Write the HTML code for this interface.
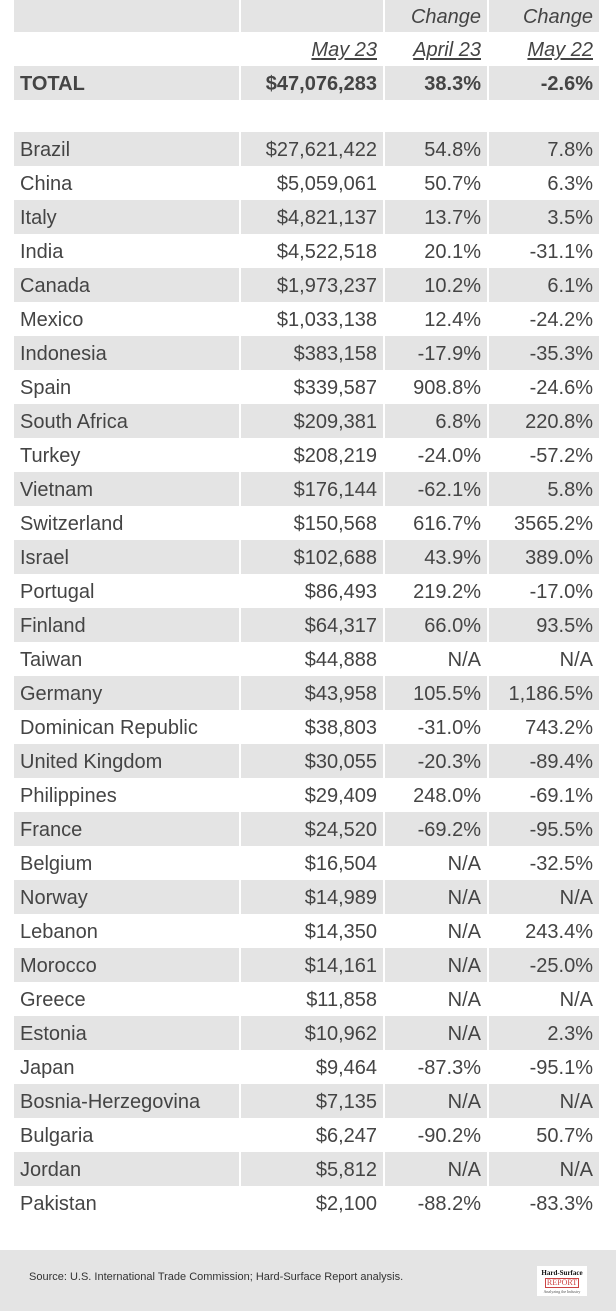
<!DOCTYPE html>
<html><head><meta charset="utf-8"><style>
*{margin:0;padding:0;box-sizing:border-box}
body{width:616px;height:1311px;background:#fff;position:relative;overflow:hidden;font-family:"Liberation Sans",Arial,sans-serif;color:#444}
.r{position:absolute;left:14px;width:585px;height:34px;font-size:20px;line-height:36px}
.r div{position:absolute;top:0;height:34px}
.c1{left:0;width:225px;padding-left:6px}
.c2{left:227px;width:142px;text-align:right;padding-right:6px}
.c3{left:371px;width:102px;text-align:right;padding-right:6px}
.c4{left:475px;width:110px;text-align:right;padding-right:6px}
.g div{background:#e4e4e4}
.b{font-weight:bold}
.i{font-style:italic}
u{text-decoration:underline;text-underline-offset:2px}
.foot{position:absolute;left:0;top:1250px;width:616px;height:61px;background:#e4e4e4}
.src{position:absolute;left:29px;top:21px;font-size:11px;color:#333}
.logo{position:absolute;left:537px;top:16px;width:50px;height:30px;background:#fff;text-align:center;font-family:"Liberation Serif",serif}
</style></head><body>
<div class="r g i" style="top:0;height:32px;line-height:34px"><div class="c1" style="height:32px"></div><div class="c2" style="height:32px"></div><div class="c3" style="height:32px">Change</div><div class="c4" style="height:32px">Change</div></div>
<div class="r i" style="top:32px"><div class="c1"></div><div class="c2"><u>May 23</u></div><div class="c3"><u>April 23</u></div><div class="c4"><u>May 22</u></div></div>
<div class="r g b" style="top:66px"><div class="c1">TOTAL</div><div class="c2">$47,076,283</div><div class="c3">38.3%</div><div class="c4">-2.6%</div></div>
<div class="r g" style="top:132px"><div class="c1">Brazil</div><div class="c2">$27,621,422</div><div class="c3">54.8%</div><div class="c4">7.8%</div></div>
<div class="r" style="top:166px"><div class="c1">China</div><div class="c2">$5,059,061</div><div class="c3">50.7%</div><div class="c4">6.3%</div></div>
<div class="r g" style="top:200px"><div class="c1">Italy</div><div class="c2">$4,821,137</div><div class="c3">13.7%</div><div class="c4">3.5%</div></div>
<div class="r" style="top:234px"><div class="c1">India</div><div class="c2">$4,522,518</div><div class="c3">20.1%</div><div class="c4">-31.1%</div></div>
<div class="r g" style="top:268px"><div class="c1">Canada</div><div class="c2">$1,973,237</div><div class="c3">10.2%</div><div class="c4">6.1%</div></div>
<div class="r" style="top:302px"><div class="c1">Mexico</div><div class="c2">$1,033,138</div><div class="c3">12.4%</div><div class="c4">-24.2%</div></div>
<div class="r g" style="top:336px"><div class="c1">Indonesia</div><div class="c2">$383,158</div><div class="c3">-17.9%</div><div class="c4">-35.3%</div></div>
<div class="r" style="top:370px"><div class="c1">Spain</div><div class="c2">$339,587</div><div class="c3">908.8%</div><div class="c4">-24.6%</div></div>
<div class="r g" style="top:404px"><div class="c1">South Africa</div><div class="c2">$209,381</div><div class="c3">6.8%</div><div class="c4">220.8%</div></div>
<div class="r" style="top:438px"><div class="c1">Turkey</div><div class="c2">$208,219</div><div class="c3">-24.0%</div><div class="c4">-57.2%</div></div>
<div class="r g" style="top:472px"><div class="c1">Vietnam</div><div class="c2">$176,144</div><div class="c3">-62.1%</div><div class="c4">5.8%</div></div>
<div class="r" style="top:506px"><div class="c1">Switzerland</div><div class="c2">$150,568</div><div class="c3">616.7%</div><div class="c4">3565.2%</div></div>
<div class="r g" style="top:540px"><div class="c1">Israel</div><div class="c2">$102,688</div><div class="c3">43.9%</div><div class="c4">389.0%</div></div>
<div class="r" style="top:574px"><div class="c1">Portugal</div><div class="c2">$86,493</div><div class="c3">219.2%</div><div class="c4">-17.0%</div></div>
<div class="r g" style="top:608px"><div class="c1">Finland</div><div class="c2">$64,317</div><div class="c3">66.0%</div><div class="c4">93.5%</div></div>
<div class="r" style="top:642px"><div class="c1">Taiwan</div><div class="c2">$44,888</div><div class="c3">N/A</div><div class="c4">N/A</div></div>
<div class="r g" style="top:676px"><div class="c1">Germany</div><div class="c2">$43,958</div><div class="c3">105.5%</div><div class="c4">1,186.5%</div></div>
<div class="r" style="top:710px"><div class="c1">Dominican Republic</div><div class="c2">$38,803</div><div class="c3">-31.0%</div><div class="c4">743.2%</div></div>
<div class="r g" style="top:744px"><div class="c1">United Kingdom</div><div class="c2">$30,055</div><div class="c3">-20.3%</div><div class="c4">-89.4%</div></div>
<div class="r" style="top:778px"><div class="c1">Philippines</div><div class="c2">$29,409</div><div class="c3">248.0%</div><div class="c4">-69.1%</div></div>
<div class="r g" style="top:812px"><div class="c1">France</div><div class="c2">$24,520</div><div class="c3">-69.2%</div><div class="c4">-95.5%</div></div>
<div class="r" style="top:846px"><div class="c1">Belgium</div><div class="c2">$16,504</div><div class="c3">N/A</div><div class="c4">-32.5%</div></div>
<div class="r g" style="top:880px"><div class="c1">Norway</div><div class="c2">$14,989</div><div class="c3">N/A</div><div class="c4">N/A</div></div>
<div class="r" style="top:914px"><div class="c1">Lebanon</div><div class="c2">$14,350</div><div class="c3">N/A</div><div class="c4">243.4%</div></div>
<div class="r g" style="top:948px"><div class="c1">Morocco</div><div class="c2">$14,161</div><div class="c3">N/A</div><div class="c4">-25.0%</div></div>
<div class="r" style="top:982px"><div class="c1">Greece</div><div class="c2">$11,858</div><div class="c3">N/A</div><div class="c4">N/A</div></div>
<div class="r g" style="top:1016px"><div class="c1">Estonia</div><div class="c2">$10,962</div><div class="c3">N/A</div><div class="c4">2.3%</div></div>
<div class="r" style="top:1050px"><div class="c1">Japan</div><div class="c2">$9,464</div><div class="c3">-87.3%</div><div class="c4">-95.1%</div></div>
<div class="r g" style="top:1084px"><div class="c1">Bosnia-Herzegovina</div><div class="c2">$7,135</div><div class="c3">N/A</div><div class="c4">N/A</div></div>
<div class="r" style="top:1118px"><div class="c1">Bulgaria</div><div class="c2">$6,247</div><div class="c3">-90.2%</div><div class="c4">50.7%</div></div>
<div class="r g" style="top:1152px"><div class="c1">Jordan</div><div class="c2">$5,812</div><div class="c3">N/A</div><div class="c4">N/A</div></div>
<div class="r" style="top:1186px"><div class="c1">Pakistan</div><div class="c2">$2,100</div><div class="c3">-88.2%</div><div class="c4">-83.3%</div></div>
<div class="foot">
<div class="src">Source: U.S. International Trade Commission; Hard-Surface Report analysis.</div>
<div class="logo"><div style="font-size:7px;font-weight:bold;color:#111;margin-top:3px">Hard-Surface</div><div style="font-size:8px;color:#c44;border:1px solid #c44;margin:1px 8px;line-height:8px">REPORT</div><div style="font-size:4px;color:#555">Analyzing the Industry</div></div>
</div>
</body></html>
